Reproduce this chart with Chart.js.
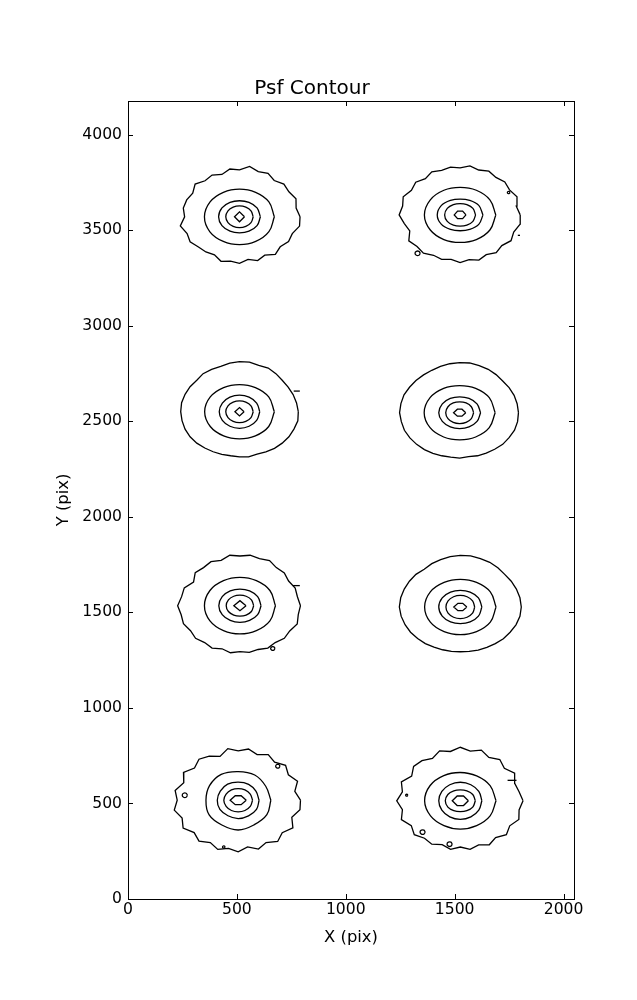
<!DOCTYPE html>
<html>
<head>
<meta charset="utf-8">
<title>Psf Contour</title>
<script src="https://cdn.jsdelivr.net/npm/chart.js@4.4.0/dist/chart.umd.min.js"></script>
<style>
    html, body { margin: 0; padding: 0; background: #fff; }
</style>
</head>
<body>
<canvas id="psfChart" width="637" height="1000"></canvas>
<script>
// detector size (pix) and tick values
const xMax = 2048;
const yMax = 4176;
const xTicks = [0, 500, 1000, 1500, 2000];
const yTicks = [0, 500, 1000, 1500, 2000, 2500, 3000, 3500, 4000];

// psf centres (pix), top-left to bottom-right
const psfX = [512, 1525, 512, 1523, 514, 1526, 506, 1526];
const psfY = [3570, 3580, 2550, 2545, 1535, 1528, 517, 514];

// contour radii (pix), equal angle steps starting at +x, counter-clockwise
// outermost level, 10 deg steps
const outerRadii = [
    [278, 264, 276, 262, 266, 248, 262, 252, 268, 246, 254, 236, 252, 246, 266, 248, 258, 262,
     252, 276, 256, 262, 246, 240, 230, 248, 236, 244, 226, 244, 232, 256, 244, 260, 258, 280],
    [276, 262, 278, 262, 268, 256, 264, 250, 260, 246, 254, 248, 260, 248, 266, 258, 278, 268,
     280, 260, 246, 272, 258, 262, 244, 248, 236, 250, 238, 252, 240, 258, 250, 270, 262, 280],
    [270, 266, 262, 258, 256, 260, 264, 258, 264, 262, 258, 252, 256, 260, 256, 262, 266, 270,
     270, 268, 266, 262, 256, 248, 242, 238, 234, 236, 240, 236, 242, 250, 256, 262, 266, 272],
    [270, 268, 266, 262, 258, 260, 262, 262, 264, 262, 260, 258, 256, 258, 262, 266, 272, 274,
     276, 272, 270, 264, 258, 252, 246, 240, 236, 238, 234, 240, 244, 250, 258, 262, 268, 270],
    [278, 268, 270, 258, 266, 260, 272, 262, 268, 260, 268, 252, 266, 260, 268, 246, 272, 272,
     286, 274, 276, 262, 266, 252, 256, 240, 250, 240, 248, 244, 256, 252, 266, 264, 280, 272],
    [280, 278, 274, 270, 266, 268, 270, 270, 272, 270, 268, 264, 262, 258, 266, 270, 274, 278,
     280, 276, 270, 264, 256, 250, 242, 238, 236, 234, 236, 240, 244, 250, 258, 264, 272, 278],
    [286, 264, 290, 266, 284, 260, 276, 254, 272, 258, 274, 244, 266, 280, 262, 290, 266, 294,
     280, 298, 274, 292, 264, 280, 256, 274, 256, 270, 248, 272, 256, 282, 264, 290, 262, 288],
    [288, 274, 266, 288, 264, 282, 262, 282, 264, 280, 262, 278, 256, 274, 280, 258, 288, 270,
     292, 270, 288, 260, 276, 256, 262, 244, 258, 242, 258, 246, 266, 252, 276, 262, 286, 274]
];
// second level, 30 deg steps
const ring2Radii = [
    [160, 156, 148, 145, 148, 156, 161, 157, 149, 146, 149, 156],
    [164, 158, 149, 144, 149, 158, 164, 158, 149, 144, 149, 158],
    [160, 155, 146, 142, 146, 155, 160, 155, 146, 142, 146, 155],
    [163, 157, 147, 142, 147, 157, 163, 157, 147, 142, 147, 157],
    [163, 159, 151, 148, 151, 159, 163, 159, 151, 148, 151, 159],
    [164, 159, 149, 145, 149, 159, 164, 159, 149, 145, 149, 159],
    [150, 146, 152, 150, 156, 152, 148, 154, 150, 156, 148, 152],
    [164, 158, 150, 148, 152, 160, 164, 158, 150, 148, 150, 158]
];
// third level
const ring3Radii = [
    [96, 93, 87, 84, 87, 93, 96, 93, 87, 84, 87, 93],
    [105, 99, 88, 83, 88, 99, 105, 99, 88, 83, 88, 99],
    [93, 91, 88, 87, 88, 91, 93, 91, 88, 87, 88, 91],
    [96, 92, 86, 83, 86, 92, 96, 92, 86, 83, 86, 92],
    [97, 94, 89, 87, 89, 94, 97, 94, 89, 87, 89, 94],
    [99, 96, 90, 87, 90, 96, 99, 96, 90, 87, 90, 96],
    [96, 94, 96, 95, 97, 95, 96, 97, 94, 96, 95, 97],
    [99, 98, 97, 97, 97, 98, 99, 98, 97, 97, 97, 98]
];
// fourth level
const ring4Radii = [
    [63, 61, 58, 57, 58, 61, 63, 61, 58, 57, 58, 61],
    [71, 68, 62, 59, 62, 68, 71, 68, 62, 59, 62, 68],
    [63, 61, 58, 57, 58, 61, 63, 61, 58, 57, 58, 61],
    [64, 62, 59, 57, 59, 62, 64, 62, 59, 57, 59, 62],
    [63, 61, 57, 55, 57, 61, 63, 61, 57, 55, 57, 61],
    [66, 65, 62, 61, 62, 65, 66, 65, 62, 61, 62, 65],
    [66, 64, 62, 61, 62, 64, 66, 64, 62, 61, 62, 64],
    [69, 66, 60, 57, 60, 66, 69, 66, 60, 57, 60, 66]
];
// innermost level (diamonds / hexagons)
const coreRadii = [
    [23, 26, 23, 26],
    [27, 23, 23, 27, 23, 23],
    [21, 22, 21, 22],
    [28, 21, 21, 28, 21, 21],
    [28, 26, 28, 26],
    [30, 22, 22, 30, 22, 22],
    [37, 27, 27, 37, 27, 27],
    [37, 29, 29, 37, 29, 29]
];

// small isolated contours: x, y, radius (pix)
const islandX = [1748, 1330, 665, 261, 688, 440, 1280, 1353, 1477];
const islandY = [3697, 3379, 1311, 543, 695, 272, 543, 350, 287];
const islandR = [6, 12, 10, 12, 10, 6, 5, 12, 12];

// short open contour pieces at the cut-out edges
const dashX0 = [1790, 761, 757, 1743];
const dashX1 = [1800, 789, 789, 1784];
const dashY = [3473, 2658, 1640, 621];

function ring(cx, cy, radii) {
    const pts = radii.map((r, k) => {
        const a = 2 * Math.PI * k / radii.length;
        return { x: cx + r * Math.cos(a), y: cy + r * Math.sin(a) };
    });
    pts.push(pts[0]);
    return pts;
}

function contourSet(points, tension) {
    return {
        data: points,
        showLine: true,
        borderColor: '#000',
        borderWidth: 1.3,
        pointRadius: 0,
        pointHoverRadius: 0,
        fill: false,
        tension: tension
    };
}

const datasets = [];
psfX.forEach((cx, i) => {
    const cy = psfY[i];
    datasets.push(contourSet(ring(cx, cy, outerRadii[i]), 0));
    datasets.push(contourSet(ring(cx, cy, ring2Radii[i]), 0.4));
    datasets.push(contourSet(ring(cx, cy, ring3Radii[i]), 0.4));
    datasets.push(contourSet(ring(cx, cy, ring4Radii[i]), 0.4));
    datasets.push(contourSet(ring(cx, cy, coreRadii[i]), 0));
});
islandX.forEach((x, i) => {
    const r = islandR[i];
    datasets.push(contourSet(ring(x, islandY[i], [r, r, r, r, r, r]), 0.3));
});
dashY.forEach((y, i) => {
    datasets.push(contourSet([{ x: dashX0[i], y: y }, { x: dashX1[i], y: y }], 0));
});

// box round the axes and ticks pointing inward on all four sides
const frameTicks = {
    id: 'frameTicks',
    afterDraw(chart) {
        const { ctx, chartArea: a, scales: { x, y } } = chart;
        const len = 5;
        ctx.save();
        ctx.strokeStyle = '#000';
        ctx.lineWidth = 1;
        ctx.beginPath();
        x.ticks.forEach(t => {
            const px = Math.round(x.getPixelForValue(t.value)) + 0.5;
            ctx.moveTo(px, a.bottom); ctx.lineTo(px, a.bottom - len);
            ctx.moveTo(px, a.top); ctx.lineTo(px, a.top + len);
        });
        y.ticks.forEach(t => {
            const py = Math.round(y.getPixelForValue(t.value)) + 0.5;
            ctx.moveTo(a.left, py); ctx.lineTo(a.left + len, py);
            ctx.moveTo(a.right, py); ctx.lineTo(a.right - len, py);
        });
        ctx.stroke();
        ctx.strokeRect(Math.round(a.left) + 0.5, Math.round(a.top) + 0.5,
            Math.round(a.right - a.left), Math.round(a.bottom - a.top));
        ctx.restore();
    }
};

const font = 'DejaVu Sans';

new Chart(document.getElementById('psfChart').getContext('2d'), {
    type: 'scatter',
    data: { datasets: datasets },
    options: {
        responsive: false,
        animation: false,
        events: [],
        layout: { padding: { left: 50, right: 63, top: 0, bottom: 50 } },
        plugins: {
            legend: { display: false },
            tooltip: { enabled: false },
            title: {
                display: true,
                text: 'Psf Contour',
                color: '#000',
                font: { family: font, size: 20, weight: 'normal' },
                padding: { top: 77, bottom: 0 }
            }
        },
        scales: {
            x: {
                type: 'linear',
                min: 0,
                max: xMax,
                afterBuildTicks(s) { s.ticks = xTicks.map(v => ({ value: v })); },
                grid: { display: false, drawTicks: false },
                border: { display: false },
                ticks: {
                    autoSkip: false,
                    maxRotation: 0,
                    padding: 2,
                    color: '#000',
                    font: { family: font, size: 15.6 },
                    callback: v => String(v)
                },
                title: {
                    display: true,
                    text: 'X (pix)',
                    color: '#000',
                    font: { family: font, size: 16.4 },
                    padding: { top: 0, bottom: 2 }
                },
                afterFit(s) { s.height = 51; }
            },
            y: {
                type: 'linear',
                min: 0,
                max: yMax,
                afterBuildTicks(s) { s.ticks = yTicks.map(v => ({ value: v })); },
                grid: { display: false, drawTicks: false },
                border: { display: false },
                ticks: {
                    autoSkip: false,
                    padding: 6,
                    color: '#000',
                    font: { family: font, size: 15.6 },
                    callback: v => String(v)
                },
                title: {
                    display: true,
                    text: 'Y (pix)',
                    color: '#000',
                    font: { family: font, size: 16.4 },
                    padding: { top: 4, bottom: 0 }
                },
                afterFit(s) { s.width = 78; }
            }
        }
    },
    plugins: [frameTicks]
});
</script>
</body>
</html>
